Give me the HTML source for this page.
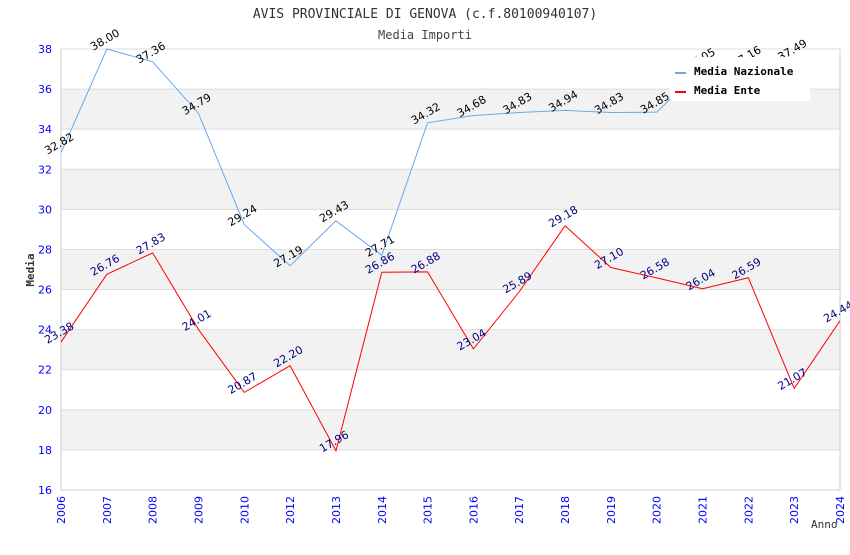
<!DOCTYPE html>
<html><head><meta charset="utf-8"><style>
body{margin:0;background:#fff;}
svg text.mono{font-family:"DejaVu Sans Mono","Liberation Mono",monospace;}
svg text.sans{font-family:"DejaVu Sans","Liberation Sans",sans-serif;}
</style></head><body>
<svg id="chart" width="850" height="550" xmlns="http://www.w3.org/2000/svg">
<text class="mono" x="425" y="18" text-anchor="middle" font-size="13" fill="#333">AVIS PROVINCIALE DI GENOVA (c.f.80100940107)</text>
<text class="mono" x="425" y="39" text-anchor="middle" font-size="12" fill="#444">Media Importi</text>
<text class="mono" transform="translate(34,270) rotate(-90)" text-anchor="middle" font-size="11" font-weight="bold" fill="#333">Media</text>
<text class="mono" x="811" y="528" font-size="11" fill="#333">Anno</text>
<g id="bands"></g><g id="grid"></g><g id="axes"></g><g id="series"></g><g id="labels"></g>
<g>
<rect x="670" y="57" width="140" height="44" fill="#fff"/>
<line x1="675" y1="73" x2="686" y2="73" stroke="#66aaee" stroke-width="2"/>
<text class="mono" x="694" y="75" font-size="11" font-weight="bold" fill="#000">Media Nazionale</text>
<line x1="675" y1="92" x2="686" y2="92" stroke="#ff0000" stroke-width="2"/>
<text class="mono" x="694" y="94" font-size="11" font-weight="bold" fill="#000">Media Ente</text>
</g>
</svg>
<script>
const categories=["2006","2007","2008","2009","2010","2012","2013","2014","2015","2016","2017","2018","2019","2020","2021","2022","2023","2024"];
const nazionale=[32.82,38.00,37.36,34.79,29.24,27.19,29.43,27.71,34.32,34.68,34.83,34.94,34.83,34.85,37.05,37.16,37.49,null];
const ente=[23.38,26.76,27.83,24.01,20.87,22.20,17.96,26.86,26.88,23.04,25.89,29.18,27.10,26.58,26.04,26.59,21.07,24.44];
const yTicks=[16,18,20,22,24,26,28,30,32,34,36,38];
const bands=[[18,20],[22,24],[26,28],[30,32],[34,36]];
const NS="http://www.w3.org/2000/svg";
const L=61,R=840,T=49,B=490,yMin=16,yMax=38;
const xs=i=>L+(R-L)*i/(categories.length-1);
const ys=v=>B-(v-yMin)/(yMax-yMin)*(B-T);
function mk(tag,attrs,parent,txt){const e=document.createElementNS(NS,tag);for(const k in attrs)e.setAttribute(k,attrs[k]);if(txt!=null)e.textContent=txt;document.getElementById(parent).appendChild(e);return e;}
bands.forEach(b=>{const e=mk('rect',{x:L,y:ys(b[1]),width:R-L,height:ys(b[0])-ys(b[1]),fill:'#f2f2f2'},'bands');

});
yTicks.forEach(t=>{const g=mk('line',{x1:L,x2:R,y1:ys(t),y2:ys(t),stroke:'#ddd'},'grid');


const tx=mk('text',{class:'sans',x:52,y:ys(t)+4,'text-anchor':'end','font-size':11,fill:'#0000ff'},'axes',String(t));

});
mk('line',{x1:L,x2:L,y1:T,y2:B,stroke:'#ccc'},'axes');
mk('line',{x1:R,x2:R,y1:T,y2:B,stroke:'#ccc'},'axes');
mk('line',{x1:L,x2:R,y1:B,y2:B,stroke:'#ccc'},'axes');
categories.forEach((c,i)=>{const tx=mk('text',{class:'sans',transform:`translate(${xs(i)+4},496) rotate(-90)`,'text-anchor':'end','font-size':11,fill:'#0000ff'},'axes',c);

});
function series(data,color,labelColor,name){
 let d='';data.forEach((v,i)=>{if(v==null)return;d+=(d?'L':'M')+xs(i)+','+ys(v);});
 const p=mk('path',{d:d,fill:'none',stroke:color,'stroke-width':1},'series');
 
 
 data.forEach((v,i)=>{if(v==null)return;
  const t=mk('text',{class:'sans',transform:`translate(${xs(i)},${ys(v)-6}) rotate(-30)`,'text-anchor':'middle','font-size':11,fill:labelColor},'labels',v.toFixed(2));
  
  });
}
series(nazionale,'#66aaee','#000','media-nazionale');
series(ente,'#ff0000','#000080','media-ente');
</script>
</body></html>
